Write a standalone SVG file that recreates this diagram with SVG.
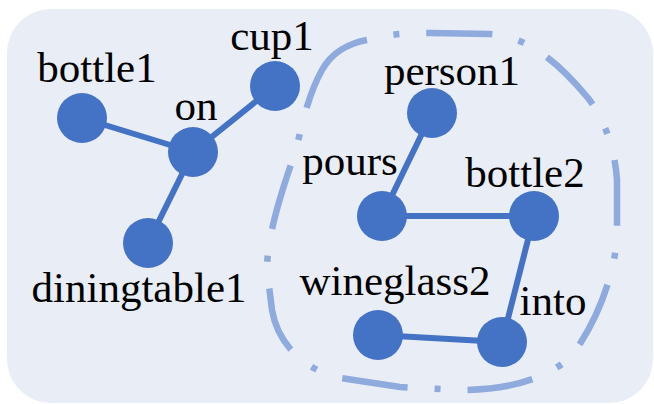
<svg xmlns="http://www.w3.org/2000/svg" width="654" height="404" viewBox="0 0 654 404">
  <style>
    .node { fill: #4472C4; }
    .edge { stroke: #4472C4; stroke-width: 6; fill: none; }
    .label { font-family: "Liberation Serif", "Times New Roman", serif; font-size: 43px; fill: #000000; text-anchor: middle; }
    .group { fill: none; stroke: #8FAADC; stroke-width: 6.5; stroke-linecap: butt;
             stroke-dasharray: 0 27 6 27 66 27 6 27 66 27 6 27 66 27 6 27 66 27 6 27 66 27 6 27 66 27 6 27 66 27 6 27 66 27 6 27 200; }
  </style>
  <rect x="0" y="0" width="654" height="404" fill="#FFFFFF"/>
  <rect x="7" y="9" width="646" height="394" rx="44" ry="44" fill="#E9EDF6"/>

  <!-- dash-dot outline around the second cluster, drawn clockwise from the top-left -->
  <path class="group" d="M 367 40 C 385 35 400 33 430 33 L 490 34 C 520 36 550 52 588 98 C 605 120 615 150 617 180 L 617 235 C 615 280 592 330 570 358 C 540 383 500 390 460 390 L 400 387 L 340 378 C 305 370 278 345 272 310 L 267 270 C 267 235 282 190 296 150 C 302 125 308 95 322 70 C 332 52 350 43 367 40"/>

  <g id="connectors">
    <line class="edge" x1="82" y1="118" x2="193" y2="152"/>
    <line class="edge" x1="193" y1="152" x2="275" y2="86"/>
    <line class="edge" x1="193" y1="152" x2="148" y2="243"/>
    <line class="edge" x1="432" y1="113" x2="382" y2="216"/>
    <line class="edge" x1="382" y1="216" x2="534" y2="216"/>
    <line class="edge" x1="534" y1="216" x2="502" y2="342"/>
    <line class="edge" x1="378" y1="335" x2="502" y2="342"/>
  </g>

  <g id="bottle1"><circle class="node" cx="82" cy="118" r="25"/><text class="label" x="97" y="82">bottle1</text></g>
  <g id="on"><circle class="node" cx="193" cy="152" r="25"/><text class="label" x="196" y="120">on</text></g>
  <g id="cup1"><circle class="node" cx="275" cy="86" r="25"/><text class="label" x="272" y="50">cup1</text></g>
  <g id="diningtable1"><circle class="node" cx="148" cy="243" r="25"/><text class="label" x="139" y="302">diningtable1</text></g>
  <g id="person1"><circle class="node" cx="432" cy="113" r="25"/><text class="label" x="452" y="85">person1</text></g>
  <g id="pours"><circle class="node" cx="382" cy="216" r="25"/><text class="label" x="350" y="175">pours</text></g>
  <g id="bottle2"><circle class="node" cx="534" cy="216" r="25"/><text class="label" x="525" y="187">bottle2</text></g>
  <g id="wineglass2"><circle class="node" cx="378" cy="335" r="25"/><text class="label" x="395" y="295">wineglass2</text></g>
  <g id="into"><circle class="node" cx="502" cy="342" r="25"/><text class="label" x="553" y="315">into</text></g>
</svg>
